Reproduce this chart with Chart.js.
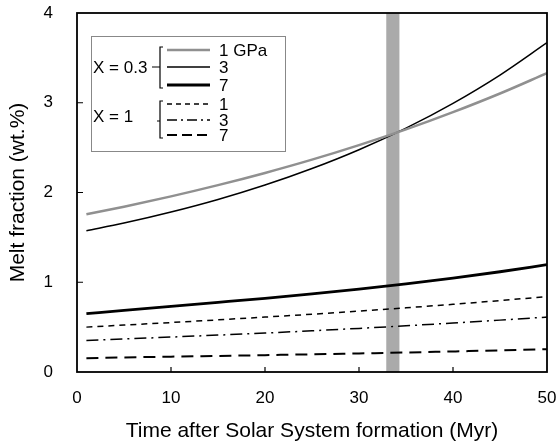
<!DOCTYPE html>
<html>
<head>
<meta charset="utf-8">
<script src="https://cdn.jsdelivr.net/npm/chart.js@4"></script>
<style>
  body { margin: 0; background: #fff; }
  #wrap { width: 557px; height: 448px; }
</style>
</head>
<body>
<div id="wrap"><canvas id="chart-line"></canvas></div>
<script>
// time after Solar System formation (Myr)
const times = [1, 5, 10, 15, 20, 25, 30, 35, 40, 45, 50];

// melt fraction (wt.%), X = 0.3
const x03_1GPa = [1.757, 1.842, 1.957, 2.082, 2.218, 2.366, 2.528, 2.703, 2.895, 3.103, 3.33];
const x03_3GPa = [1.573, 1.659, 1.782, 1.922, 2.083, 2.267, 2.477, 2.718, 2.994, 3.309, 3.67];
const x03_7GPa = [0.65, 0.687, 0.732, 0.776, 0.821, 0.870, 0.924, 0.982, 1.045, 1.117, 1.196];

// melt fraction (wt.%), X = 1
const x1_1GPa = [0.50, 0.523, 0.551, 0.581, 0.612, 0.644, 0.678, 0.715, 0.754, 0.796, 0.84];
const x1_3GPa = [0.352, 0.368, 0.389, 0.411, 0.434, 0.459, 0.486, 0.515, 0.546, 0.578, 0.612];
const x1_7GPa = [0.154, 0.162, 0.171, 0.179, 0.188, 0.197, 0.207, 0.217, 0.229, 0.241, 0.254];

// shaded interval (Myr)
const bandStart = 32.9;
const bandEnd = 34.3;

const xTicks = [0, 10, 20, 30, 40, 50];
const yTicks = [0, 1, 2, 3, 4];

const FONT = "'Liberation Sans', Arial, Helvetica, sans-serif";

function pts(vals) {
  return times.map((t, i) => ({ x: t, y: vals[i] }));
}

// gray band behind the curves
const bandPlugin = {
  id: "band",
  beforeDatasetsDraw(chart) {
    const { ctx, chartArea, scales } = chart;
    const x0 = scales.x.getPixelForValue(bandStart);
    const x1 = scales.x.getPixelForValue(bandEnd);
    ctx.save();
    ctx.fillStyle = "#aaaaaa";
    ctx.fillRect(x0, chartArea.top, x1 - x0, chartArea.bottom - chartArea.top);
    ctx.restore();
  },
};

// box frame, inward ticks and the hand-made legend
const framePlugin = {
  id: "frame",
  afterDatasetsDraw(chart) {
    const { ctx, chartArea: ca, scales } = chart;
    ctx.save();
    ctx.strokeStyle = "#000";
    ctx.lineWidth = 1.8;
    ctx.strokeRect(ca.left, ca.top, ca.right - ca.left, ca.bottom - ca.top);

    ctx.lineWidth = 1.2;
    ctx.beginPath();
    xTicks.slice(1, -1).forEach((v) => {
      const px = scales.x.getPixelForValue(v);
      ctx.moveTo(px, ca.bottom);
      ctx.lineTo(px, ca.bottom - 5);
    });
    yTicks.slice(1, -1).forEach((v) => {
      const py = scales.y.getPixelForValue(v);
      ctx.moveTo(ca.left, py);
      ctx.lineTo(ca.left + 6, py);
    });
    ctx.stroke();

    // legend
    const lx = ca.left + 14;
    const ly = ca.top + 23;
    ctx.strokeStyle = "#888";
    ctx.lineWidth = 1;
    ctx.fillStyle = "#fff";
    ctx.fillRect(lx, ly, 194, 115);
    ctx.strokeRect(lx + 0.5, ly + 0.5, 194, 115);

    const rows = [
      { y: 14, color: "#909090", w: 2.5, dash: [], label: "1 GPa" },
      { y: 31, color: "#000", w: 1.5, dash: [], label: "3" },
      { y: 49, color: "#000", w: 2.8, dash: [], label: "7" },
      { y: 68, color: "#000", w: 1.4, dash: [5, 4], label: "1" },
      { y: 84, color: "#000", w: 1.4, dash: [10, 4, 2, 4], label: "3" },
      { y: 99, color: "#000", w: 2, dash: [10, 5], label: "7" },
    ];
    ctx.font = "17px " + FONT;
    ctx.textBaseline = "middle";
    rows.forEach((r) => {
      ctx.strokeStyle = r.color;
      ctx.lineWidth = r.w;
      ctx.setLineDash(r.dash);
      ctx.beginPath();
      ctx.moveTo(lx + 76, ly + r.y);
      ctx.lineTo(lx + 119, ly + r.y);
      ctx.stroke();
      ctx.fillStyle = "#000";
      ctx.fillText(r.label, lx + 128, ly + r.y + 1);
    });
    ctx.setLineDash([]);

    // braces
    ctx.strokeStyle = "#000";
    ctx.lineWidth = 1.2;
    const brace = (top, bottom, mid, tipX) => {
      const bx = lx + 69;
      ctx.beginPath();
      ctx.moveTo(bx + 3, ly + top);
      ctx.lineTo(bx, ly + top);
      ctx.lineTo(bx, ly + bottom);
      ctx.lineTo(bx + 3, ly + bottom);
      ctx.moveTo(bx, ly + mid);
      ctx.lineTo(tipX, ly + mid);
      ctx.stroke();
    };
    brace(11, 52, 31, lx + 61);
    brace(65, 102, 85, lx + 66);

    ctx.fillStyle = "#000";
    ctx.fillText("X = 0.3", lx + 2, ly + 32);
    ctx.fillText("X = 1", lx + 2, ly + 81);
    ctx.restore();
  },
};

const ctx = document.getElementById("chart-line");
new Chart(ctx, {
  type: "line",
  data: {
    datasets: [
      { label: "X=0.3, 1 GPa", data: pts(x03_1GPa), borderColor: "#909090", borderWidth: 2.5 },
      { label: "X=0.3, 3 GPa", data: pts(x03_3GPa), borderColor: "#000", borderWidth: 1.5 },
      { label: "X=0.3, 7 GPa", data: pts(x03_7GPa), borderColor: "#000", borderWidth: 2.8 },
      { label: "X=1, 1 GPa", data: pts(x1_1GPa), borderColor: "#000", borderWidth: 1.5, borderDash: [6, 5] },
      { label: "X=1, 3 GPa", data: pts(x1_3GPa), borderColor: "#000", borderWidth: 1.5, borderDash: [12, 5, 2, 5] },
      { label: "X=1, 7 GPa", data: pts(x1_7GPa), borderColor: "#000", borderWidth: 2, borderDash: [12, 7] },
    ],
  },
  options: {
    responsive: true,
    maintainAspectRatio: false,
    animation: false,
    layout: { padding: { left: 0, right: 10, top: 13, bottom: 0 } },
    elements: {
      point: { radius: 0 },
      line: { tension: 0.4, cubicInterpolationMode: "monotone", fill: false },
    },
    plugins: { legend: { display: false }, tooltip: { enabled: false } },
    scales: {
      x: {
        type: "linear",
        min: 0,
        max: 50,
        afterBuildTicks: (s) => { s.ticks = xTicks.map((v) => ({ value: v })); },
        afterFit: (s) => {
          s.height = 76;
          s.paddingLeft = 0;
          s.paddingRight = 0;
        },
        grid: { display: false, drawTicks: false },
        border: { display: false },
        ticks: { color: "#000", padding: 16, maxRotation: 0, font: { family: FONT, size: 17 } },
        title: {
          display: true,
          text: "Time after Solar System formation (Myr)",
          color: "#000",
          padding: { top: 0, bottom: 4 },
          font: { family: FONT, size: 21 },
        },
      },
      y: {
        min: 0,
        max: 4,
        afterBuildTicks: (s) => { s.ticks = yTicks.map((v) => ({ value: v })); },
        afterFit: (s) => {
          s.width = 77;
          s.paddingTop = 0;
          s.paddingBottom = 0;
        },
        grid: { display: false, drawTicks: false },
        border: { display: false },
        ticks: { color: "#000", padding: 24, font: { family: FONT, size: 17 } },
        title: {
          display: true,
          text: "Melt fraction (wt.%)",
          color: "#000",
          padding: { top: 6, bottom: 0 },
          font: { family: FONT, size: 21 },
        },
      },
    },
  },
  plugins: [bandPlugin, framePlugin],
});
</script>
</body>
</html>
